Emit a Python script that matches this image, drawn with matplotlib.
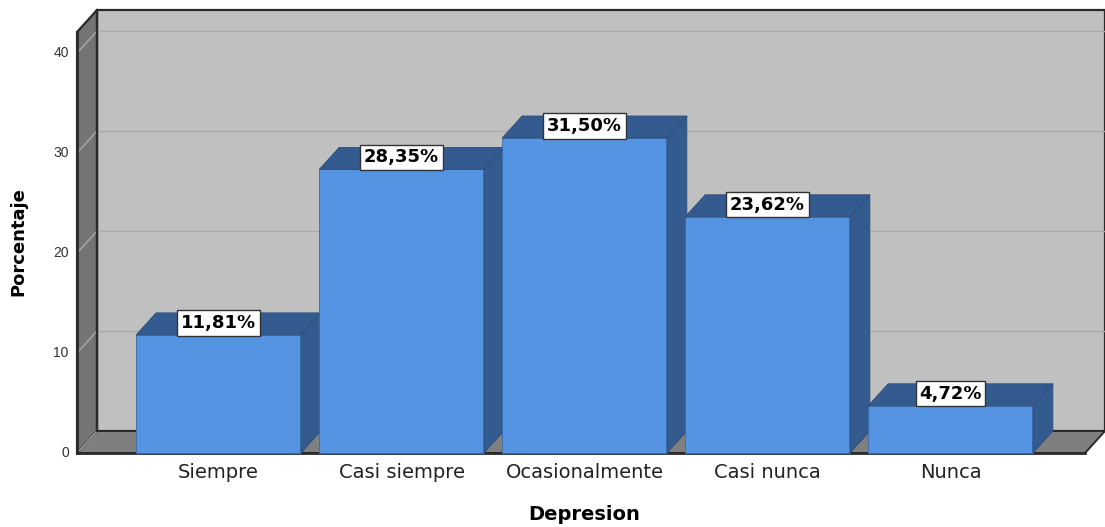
import matplotlib.pyplot as plt
from matplotlib.patches import Polygon

categories = ["Siempre", "Casi siempre", "Ocasionalmente", "Casi nunca", "Nunca"]
percentages = [11.81, 28.35, 31.50, 23.62, 4.72]
y_ticks = [0, 10, 20, 30, 40]

plt.rcParams["font.family"] = ["DejaVu Sans"]

# pseudo-3D geometry (in data units)
bar_w = 0.90
dx, dy = 0.109, 2.2          # depth offset of the back plane
x_left, x_right = -0.773, 4.735
wall_top = 42.1

front_col = "#5594e3"
shade_col = "#345b8f"
edge_col = "#2a2a2a"

fig = plt.figure(figsize=(11.05, 5.27), dpi=100)
ax = fig.add_axes([0, 0, 1, 1])
ax.set_xlim(-1.194, 4.844)
ax.set_ylim(-7.4, 45.3)
ax.axis("off")

# back wall
ax.add_patch(Polygon([(x_left + dx, dy), (x_right + dx, dy),
                      (x_right + dx, wall_top + dy), (x_left + dx, wall_top + dy)],
                     closed=True, fc="#c0c0c0", ec=edge_col, lw=1.6, zorder=1))
# left wall
ax.add_patch(Polygon([(x_left, 0), (x_left + dx, dy),
                      (x_left + dx, wall_top + dy), (x_left, wall_top)],
                     closed=True, fc="#747474", ec=edge_col, lw=1.6, zorder=1))
# floor
ax.add_patch(Polygon([(x_left, 0), (x_right, 0), (x_right + dx, dy), (x_left + dx, dy)],
                     closed=True, fc="#7f7f7f", ec=edge_col, lw=1.4, zorder=1))

# gridlines on back and left walls
for t in y_ticks:
    if t > 0:
        ax.plot([x_left + dx, x_right + dx], [t + dy, t + dy], color="#a9a9a9", lw=1, zorder=2)
    ax.plot([x_left, x_left + dx], [t, t + dy], color="#a9a9a9", lw=1, zorder=2)
    ax.text(x_left - 0.045, t, str(t), ha="right", va="center", fontsize=10,
            color="#333333", family="Liberation Sans")

# re-stroke the frame edges on top of the gridlines
ax.plot([x_left, x_left], [0, wall_top], color=edge_col, lw=2, zorder=2)
ax.plot([x_left + dx, x_left + dx], [dy, wall_top + dy], color=edge_col, lw=1.6, zorder=2)
ax.plot([x_left, x_right], [0, 0], color=edge_col, lw=2, zorder=2)

# bars
for i, (cat, v) in enumerate(zip(categories, percentages)):
    x0, x1 = i - bar_w / 2, i + bar_w / 2
    ax.add_patch(Polygon([(x0, 0), (x1, 0), (x1, v), (x0, v)], closed=True,
                         fc=front_col, ec="#3a6aa8", lw=0.6, zorder=3))
    ax.add_patch(Polygon([(x1, 0), (x1 + dx, dy), (x1 + dx, v + dy), (x1, v)], closed=True,
                         fc=shade_col, ec="#2b4c78", lw=0.6, zorder=3))
    ax.add_patch(Polygon([(x0, v), (x1, v), (x1 + dx, v + dy), (x0 + dx, v + dy)], closed=True,
                         fc=shade_col, ec="#2b4c78", lw=0.6, zorder=3))
    ax.text(i, v + 1.2, f"{v:.2f}%".replace(".", ","), ha="center", va="center",
            fontsize=13, fontweight="bold", color="black", zorder=5,
            bbox=dict(boxstyle="square,pad=0.2", fc="white", ec="#333333", lw=1))
    ax.text(i, -2.0, cat, ha="center", va="center", fontsize=14, color="#222222")

ax.text(2.0, -6.1, "Depresion", ha="center", va="center", fontsize=14, fontweight="bold")
ax.text(-1.095, 21.1, "Porcentaje", ha="center", va="center", rotation=90,
        fontsize=13, fontweight="bold")

fig.savefig("out.png", dpi=100)
